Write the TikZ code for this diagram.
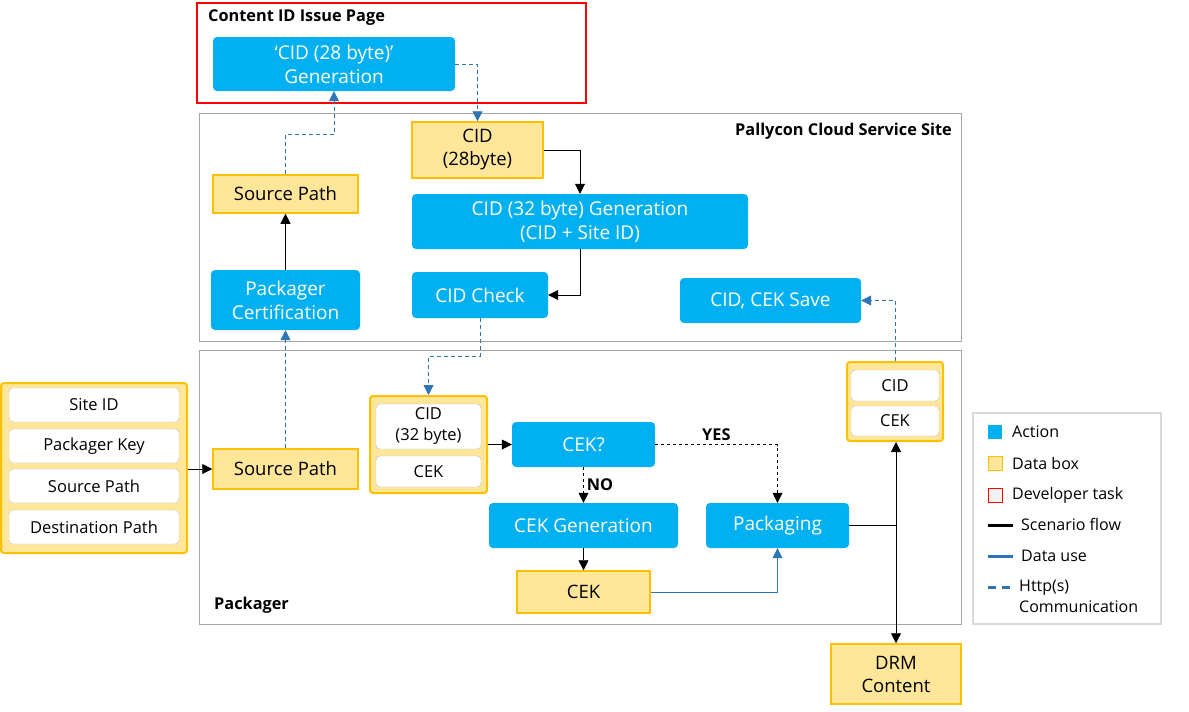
\documentclass[tikz,border=0pt]{standalone}
\usepackage{fontspec}
\setmainfont{Open Sans}
\usetikzlibrary{positioning,arrows.meta}

\definecolor{actblue}{HTML}{00B0F0}
\definecolor{datafill}{HTML}{FFE699}
\definecolor{dataline}{HTML}{FFC000}
\definecolor{linkblue}{HTML}{2E75B6}
\definecolor{framegray}{HTML}{A6A6A6}
\definecolor{taskfill}{HTML}{F2F2F2}

\begin{document}
\begin{tikzpicture}[
            x=1pt,y=-1pt,
            act/.style={rectangle,rounded corners=4pt,fill=actblue,text=white,align=center,
                inner sep=0pt,font=\fontsize{19}{24}\selectfont},
            data/.style={rectangle,draw=dataline,line width=1.5pt,fill=datafill,align=center,
                inner sep=0pt,font=\fontsize{18.5}{23}\selectfont},
            grp/.style={rectangle,rounded corners=3pt,draw=dataline,line width=2pt,fill=datafill,inner sep=0pt},
            item/.style={rectangle,rounded corners=4pt,draw=black!25,fill=white,align=center,
                inner sep=0pt,font=\fontsize{16.5}{21}\selectfont},
            frame/.style={draw=framegray,line width=0.8pt},
            title/.style={font=\bfseries\fontsize{16.3}{19}\selectfont,inner sep=0pt},
            flow/.style={-{Triangle[length=10pt,width=10pt]},black,line width=0.8pt},
            http/.style={-{Triangle[length=10pt,width=10pt]},linkblue,line width=0.8pt,dash pattern=on 4pt off 3pt},
            use/.style={-{Triangle[length=10pt,width=10pt]},linkblue,line width=0.8pt},
            legtext/.style={anchor=west,inner sep=0pt,align=left,font=\fontsize{16}{21}\selectfont}]
            \useasboundingbox (0,0) rectangle (1189,712);

            % frames
            \draw[red,line width=1.5pt] (197,3) rectangle (586,103);
            \draw[frame] (199,113) rectangle (961,341);
            \draw[frame] (199,350) rectangle (961,624);
            \node[title,anchor=west](issuetitle) at (208,18) {Content ID Issue Page};
            \node[title,anchor=east](cloudtitle) at (952,131) {Pallycon Cloud Service Site};
            \node[title,anchor=west](pkgtitle) at (214,605) {Packager};

            % content id issue page
            \node[act,minimum width=242pt,minimum height=54pt](gen) at (334,64) {‘CID (28 byte)’\\Generation};

            % cloud service site
            \node[data,minimum width=131pt,minimum height=56pt](cid28) at (477.5,150) {CID\\(28byte)};
            \node[act,minimum width=336pt,minimum height=55pt](cid32) at (580,221.5) {CID (32 byte) Generation\\(CID + Site ID)};
            \node[act,minimum width=136pt,minimum height=46pt](cidchk) at (480,295) {CID Check};
            \node[act,minimum width=181pt,minimum height=45pt](save) at (770.5,300.5) {CID, CEK Save};
            \node[data,minimum width=145pt,minimum height=38pt](srctop) at (285.5,194) {Source Path};
            \node[act,minimum width=149pt,minimum height=60pt](cert) at (285.5,300) {Packager\\Certification};

            % packager
            \node[grp,minimum width=186pt,minimum height=170pt](grpL) at (94,468) {};
            \node[item,minimum width=170pt,minimum height=34pt](siteid) at (94,405) {Site ID};
            \node[item,minimum width=170pt,minimum height=34pt](pkgkey) at (94,446) {Packager Key};
            \node[item,minimum width=170pt,minimum height=34pt](srcpath) at (94,486) {Source Path};
            \node[item,minimum width=170pt,minimum height=34pt](dstpath) at (94,527) {Destination Path};
            \node[data,minimum width=145pt,minimum height=40pt](srcbot) at (285.5,469) {Source Path};

            \node[grp,minimum width=117pt,minimum height=97pt](grpM) at (428.5,444.5) {};
            \node[item,minimum width=105pt,minimum height=45pt](cidM) at (428.5,426.5) {CID\\(32 byte)};
            \node[item,minimum width=105pt,minimum height=31pt](cekM) at (428.5,471.5) {CEK};

            \node[act,minimum width=143pt,minimum height=45pt](cekq) at (583.5,444.5) {CEK?};
            \node[act,minimum width=189pt,minimum height=45pt](cekgen) at (583.5,525.5) {CEK Generation};
            \node[act,minimum width=143pt,minimum height=45pt](pack) at (777.5,525.5) {Packaging};
            \node[data,minimum width=133pt,minimum height=42pt](cekdat) at (583.5,592) {CEK};

            \node[grp,minimum width=96pt,minimum height=79pt](grpR) at (895,401.5) {};
            \node[item,minimum width=88pt,minimum height=31pt](cidR) at (895,385.5) {CID};
            \node[item,minimum width=88pt,minimum height=30pt](cekR) at (895,421) {CEK};

            \node[data,minimum width=130pt,minimum height=60pt](drm) at (896,674) {DRM\\Content};

            % connectors
            \draw[flow] (grpL.east |- srcbot.west) -- (srcbot.west);
            \draw[http] (srcbot.north) -- (cert.south);
            \draw[flow] (cert.north) -- (srctop.south);
            \draw[http] (srctop.north) -- ++(0,-40) -| (gen.south);
            \draw[http] (gen.east) -| (cid28.north);
            \draw[flow] (cid28.east) -| (cid32.north);
            \draw[flow] (cid32.south) |- (cidchk.east);
            \draw[http] (cidchk.south) -- ++(0,38) -| (grpM.north);
            \draw[flow] (grpM.east |- cekq.west) -- (cekq.west);
            \draw[flow,dashed] (cekq.south) -- node[right=3pt,title]{NO} (cekgen.north);
            \draw[flow,dashed] (cekq.east) -| node[pos=0.25,above=3pt,title]{YES} (pack.north);
            \draw[flow] (cekgen.south) -- (cekdat.north);
            \draw[use] (cekdat.east) -| (pack.south);
            \coordinate (junc) at (pack.east -| drm.north);
            \draw[black,line width=0.8pt] (pack.east) -- (junc);
            \draw[flow] (junc) -- (grpR.south -| junc);
            \draw[flow] (junc) -- (drm.north);
            \draw[http] (grpR.north) |- (save.east);

            % legend
            \draw[black!15,line width=1.5pt] (973,413) rectangle (1161,624);
            \fill[actblue] (988,425) rectangle (1002,439);
            \node[legtext](legact) at (1012,432) {Action};
            \draw[dataline,fill=datafill,line width=1pt] (988,456) rectangle (1002,470);
            \node[legtext](legdata) at (1012,463) {Data box};
            \draw[red,fill=taskfill,line width=0.6pt] (988,488) rectangle (1002,502);
            \node[legtext](legtask) at (1012,495) {Developer task};
            \draw[black,line width=3pt] (988,525) -- (1013,525);
            \node[legtext](legflow) at (1021,524) {Scenario flow};
            \draw[linkblue,line width=3pt] (988,556) -- (1013,556);
            \node[legtext](leguse) at (1021,556) {Data use};
            \draw[linkblue,line width=3pt,dash pattern=on 8pt off 6pt] (988,587) -- (1013,587);
            \node[legtext](leghttp) at (1019,596) {Http(s)\\Communication};
\end{tikzpicture}
\end{document}
